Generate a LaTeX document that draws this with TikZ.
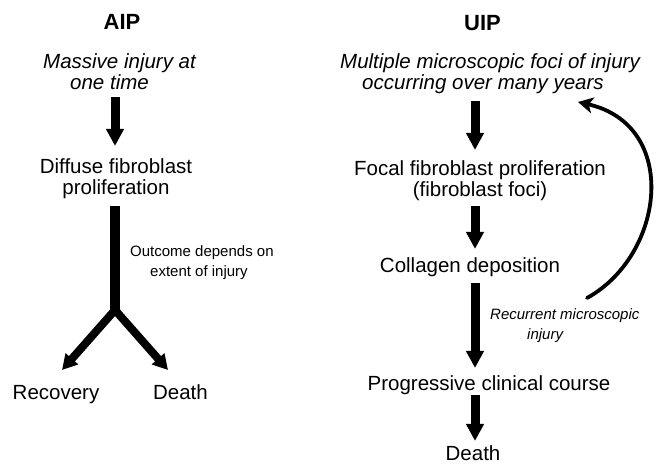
\documentclass[tikz,border=0pt]{standalone}
\usepackage{fontspec}
\setmainfont{Liberation Sans}
\usetikzlibrary{arrows.meta}
\begin{document}
\begin{tikzpicture}[x=1pt,y=-1pt,
  txt/.style={inner sep=0pt, anchor=base, font=\fontsize{20.5}{21.5}\selectfont},
  itx/.style={txt, font=\fontsize{20.5}{21.5}\selectfont\itshape},
  small/.style={inner sep=0pt, anchor=base west, align=left, font=\fontsize{15}{20}\selectfont},
  title/.style={inner sep=0pt, anchor=base, font=\fontsize{22}{24}\selectfont\bfseries},
  fat/.style={line width=9pt, -{Triangle[length=17pt,width=17pt]}},
  fork/.style={line width=8pt, line join=miter, {Triangle[length=15pt,width=16pt]}-{Triangle[length=15pt,width=16pt]}},
  loop/.style={line width=3.8pt, line cap=round, -{Stealth[length=15pt,width=16pt,inset=4pt]}}
]
\fill[white] (0,0) rectangle (658,463);
\useasboundingbox (0,0) rectangle (658,463);

% column guides
\coordinate (cL) at (115,0);
\coordinate (cR) at (475,0);

% left column (multi-line nodes are placed by their last baseline)
\node[title] (aip) at (122,29) {AIP};
\node[itx, anchor=base west, align=left] (mass) at (43,89.5) {Massive injury at\\\hspace*{27pt}one time};
\node[txt, align=center] (diff) at (116,194.5) {Diffuse fibroblast\\proliferation};
\node[small] (outc) at (130,276) {Outcome depends on\\\hspace*{20pt}extent of injury};
\node[txt] (rec) at (56,399) {Recovery};
\node[txt] (dthL) at (180.5,399) {Death};

\coordinate (jn) at (115,310);
\coordinate (tipL) at (62,370);
\coordinate (tipR) at (168,370);

\draw[fat, shorten <=7pt, shorten >=12pt] (mass.south -| cL) -- (diff.north -| cL);
\draw[line width=10pt, shorten <=7pt] (diff.south -| cL) -- (jn);
\draw[fork] (tipL) -- (jn) -- (tipR);

% right column
\node[title] (uip) at (482.5,30) {UIP};
\node[itx, anchor=base west, align=left] (mult) at (340,89.5) {Multiple microscopic foci of injury\\\hspace*{22pt}occurring over many years};
\node[txt, align=center] (focal) at (480,196.5) {Focal fibroblast proliferation\\(fibroblast foci)};
\node[txt] (coll) at (470,272) {Collagen deposition};
\node[txt] (prog) at (489,390) {Progressive clinical course};
\node[txt] (dthR) at (473,460) {Death};
\node[small, font=\fontsize{15}{20}\selectfont\itshape] (recur) at (490,339) {Recurrent microscopic\\\hspace*{37pt}injury};

\draw[fat, shorten <=7pt, shorten >=10pt] (mult.south -| cR) -- (focal.north -| cR);
\draw[fat, shorten <=5pt, shorten >=8pt] (focal.south -| cR) -- (coll.north -| cR);
\draw[fat, shorten <=7pt, shorten >=7pt] (coll.south -| cR) -- (prog.north -| cR);
\draw[fat, shorten <=1pt, shorten >=4pt] (prog.south -| cR) -- (dthR.north -| cR);

\coordinate (ls) at (587,298);
\coordinate (le) at (578,102);
\draw[loop] (ls) .. controls (665,255) and (680,125) .. (le);
\end{tikzpicture}
\end{document}
